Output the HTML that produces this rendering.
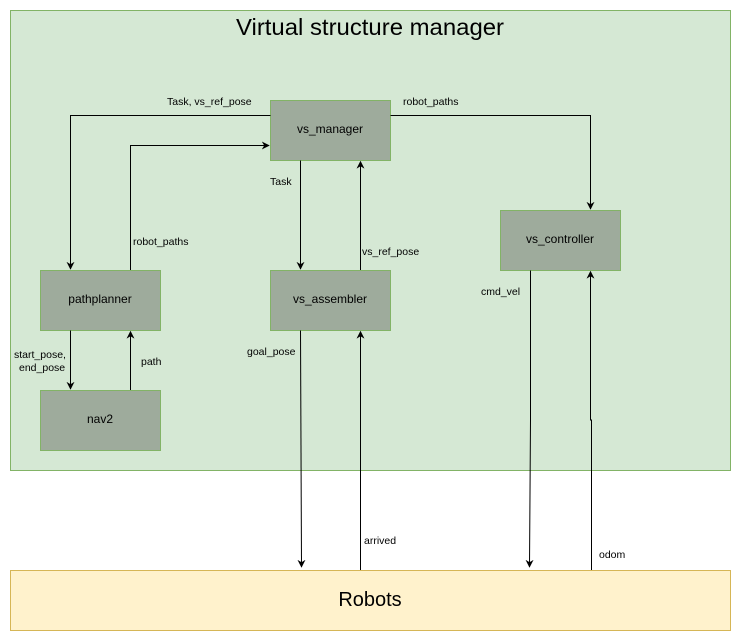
<!DOCTYPE html>
<html><head><meta charset="utf-8"><style>
html,body{margin:0;padding:0;background:#fff;}
svg{display:block;font-family:"Liberation Sans",Arial,sans-serif;}
</style></head><body>
<svg width="741" height="641" viewBox="0 0 741 641" xmlns="http://www.w3.org/2000/svg">
<defs>
<marker id="a" viewBox="0 0 10 10" refX="9" refY="5" markerWidth="8" markerHeight="8" markerUnits="userSpaceOnUse" orient="auto">
<path d="M0,0 L10,5 L0,10 L3,5 z" fill="#000"/>
</marker>
</defs>
<rect x="10.5" y="10.5" width="720" height="460" fill="#d5e8d4" stroke="#82b366"/>
<text x="370" y="35" font-size="23" text-anchor="middle" textLength="268" lengthAdjust="spacingAndGlyphs">Virtual structure manager</text>
<rect x="10.5" y="570.5" width="720" height="60" fill="#fff2cc" stroke="#d6b656"/>
<text x="370" y="606" font-size="20" text-anchor="middle">Robots</text>

<g fill="#9eab9c" stroke="#82b366">
<rect x="270.5" y="100.5" width="120" height="60"/>
<rect x="40.5" y="270.5" width="120" height="60"/>
<rect x="40.5" y="390.5" width="120" height="60"/>
<rect x="270.5" y="270.5" width="120" height="60"/>
<rect x="500.5" y="210.5" width="120" height="60"/>
</g>
<g font-size="12" text-anchor="middle">
<text x="330" y="133">vs_manager</text>
<text x="100" y="303">pathplanner</text>
<text x="100" y="423">nav2</text>
<text x="330" y="303">vs_assembler</text>
<text x="560" y="243">vs_controller</text>
</g>

<g fill="none" stroke="#000" stroke-width="1" marker-end="url(#a)">
<path d="M270.5,115.5 H70.5 V269"/>
<path d="M130.5,270 V145.5 H269"/>
<path d="M300.5,160.5 V269"/>
<path d="M360.5,270 V161.5"/>
<path d="M390.5,115.5 H590.5 V209"/>
<path d="M70.5,330.5 V389"/>
<path d="M130.5,390 V331.5"/>
<path d="M300.5,330.5 L301.5,567"/>
<path d="M360.5,570 V331.5"/>
<path d="M530.5,270.5 V420 L529.5,567"/>
<path d="M591.5,570 V420 H590.5 V271.5"/>
</g>

<g font-size="10.5">
<text x="167" y="105">Task, vs_ref_pose</text>
<text x="403" y="105">robot_paths</text>
<text x="270" y="185">Task</text>
<text x="133" y="245">robot_paths</text>
<text x="362" y="255">vs_ref_pose</text>
<text x="481" y="295">cmd_vel</text>
<text x="14" y="358">start_pose,</text>
<text x="19" y="371">end_pose</text>
<text x="141" y="365">path</text>
<text x="247" y="355">goal_pose</text>
<text x="364" y="544">arrived</text>
<text x="599" y="558">odom</text>
</g>
</svg>
</body></html>
